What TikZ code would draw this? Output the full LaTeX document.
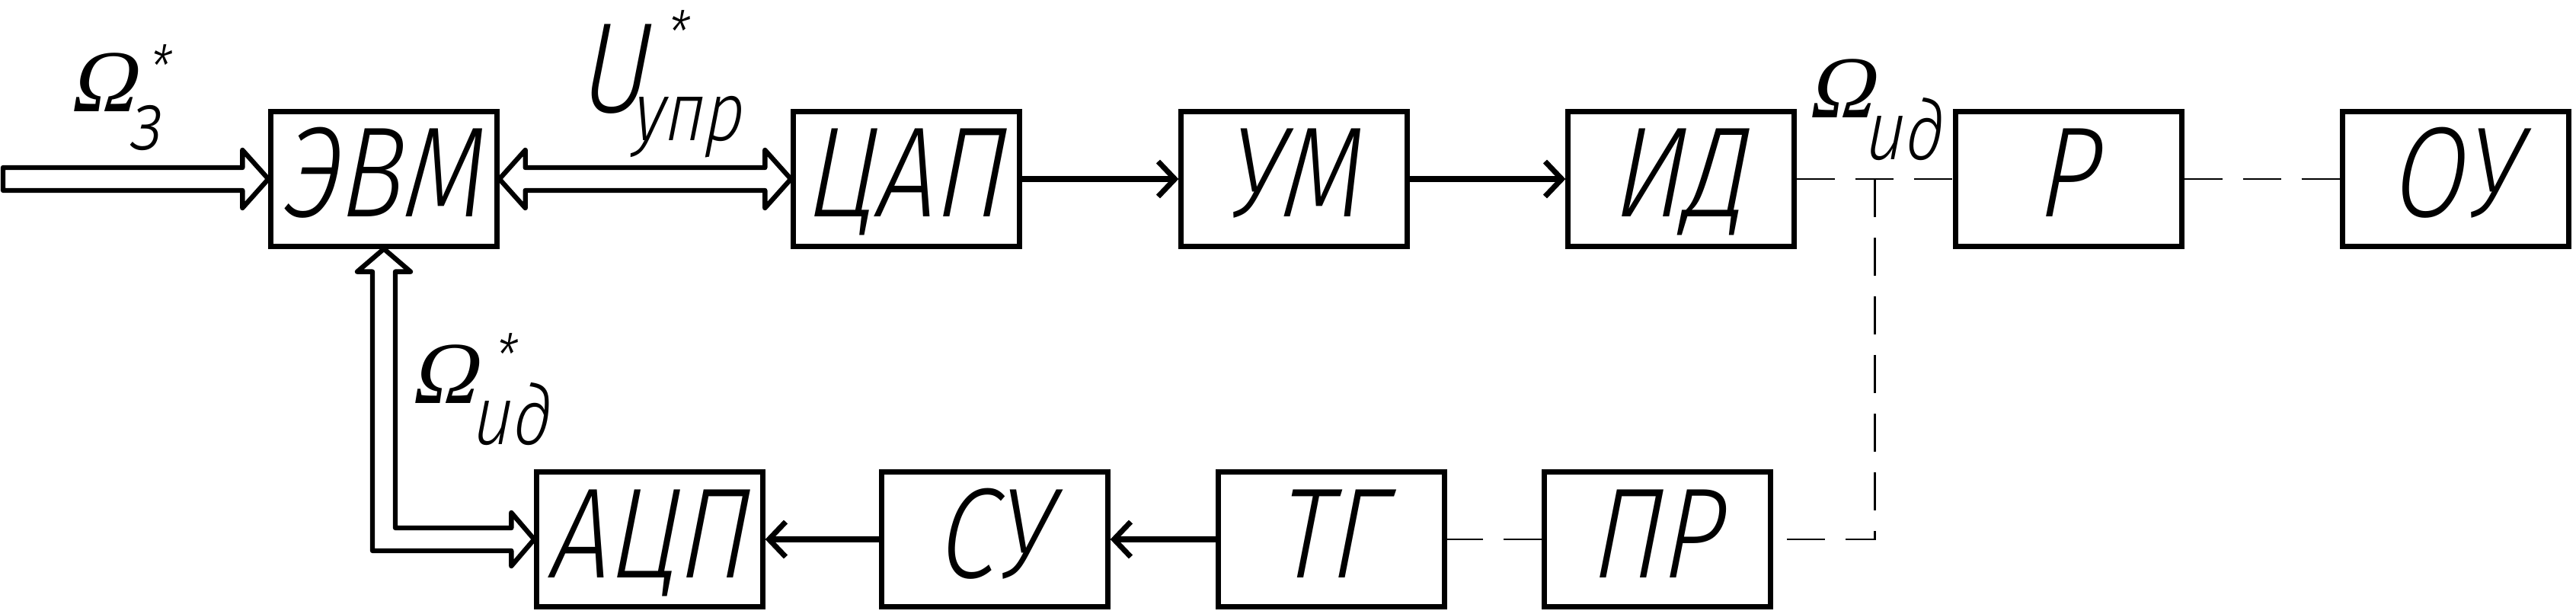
\documentclass[tikz,border=0pt]{standalone}
\usepackage{fontspec}
\usetikzlibrary{calc,arrows.meta}
\newfontfamily\gost[FakeSlant=0.08,FakeStretch=0.82]{Fira Sans Light Italic}
\newfontfamily\omfont[FakeSlant=0.22]{Liberation Serif}

\begin{document}
\begin{tikzpicture}[
    blk/.style={draw,line width=1.8pt,minimum width=2.97cm,minimum height=1.77cm,inner sep=0pt,
      text height=1.18cm,text depth=0.18cm,font=\gost\fontsize{48}{52}\selectfont},
    sig/.style={line width=2pt,-{Straight Barb[length=2.2mm,width=4.6mm]}},
    bus/.style={line width=1.8pt,line join=round},
    mech/.style={line width=0.8pt,dash pattern=on 0.5cm off 0.27cm},
    omg/.style={anchor=base west,inner sep=0pt,font=\omfont\fontsize{33}{36}\selectfont},
    lbl/.style={anchor=base west,inner sep=0pt,font=\gost\fontsize{48}{52}\selectfont},
    idx/.style={anchor=base west,inner sep=0pt,font=\gost\fontsize{31}{34}\selectfont},
    ast/.style={anchor=north west,inner sep=0pt,font=\gost\fontsize{22}{24}\selectfont}]
  \useasboundingbox (0,0) rectangle (33.82,-8.06);

  % top row
  \node[blk] (evm) at (5.04,-2.35) {ЭВМ};
  \node[blk] (cap) at (11.90,-2.35) {ЦАП};
  \node[blk] (um) at (16.99,-2.35) {УМ};
  \node[blk] (id) at (22.07,-2.35) {ИД};
  \node[blk] (r) at (27.16,-2.35) {Р};
  \node[blk] (ou) at (32.24,-2.35) {ОУ};

  % bottom row
  \node[blk] (acp) at (8.53,-7.08) {АЦП};
  \node[blk] (su) at (13.06,-7.08) {СУ};
  \node[blk] (tg) at (17.48,-7.08) {ТГ};
  \node[blk] (pr) at (21.76,-7.08) {ПР};

  % input bus
  \coordinate (zin) at (0.04,-2.35);
  \draw[bus] ($(zin)+(0,0.15)$) -- ($(evm.west)+(-0.34,0.15)$) -- ++(0,0.23) -- (evm.west)
    -- ++(-0.34,-0.38) -- ++(0,0.23) -- ($(zin)+(0,-0.15)$) -- cycle;
  \node[omg] (oz) at (0.90,-1.47) {Ω};
  \node[ast] at (1.94,-0.58) {*};
  \node[idx] at (1.70,-1.97) {з};

  % evm <-> cap
  \draw[bus] (evm.east) -- ++(0.34,0.38) -- ++(0,-0.23) -- ($(cap.west)+(-0.34,0.15)$) -- ++(0,0.23)
    -- (cap.west) -- ++(-0.34,-0.38) -- ++(0,0.23) -- ($(evm.east)+(0.34,-0.15)$) -- ++(0,-0.23) -- cycle;
  \node[lbl] (uu) at (7.62,-1.48) {U};
  \node[ast] at (8.74,-0.13) {*};
  \node[idx] at (8.30,-1.85) {упр};

  \draw[sig] (cap) -- (um);
  \draw[sig] (um) -- (id);

  % shaft
  \draw[mech] (id) -- (r);
  \draw[mech] (r) -- (ou);
  \coordinate (tap) at ($(id.east)!0.5!(r.west)$);
  \draw[mech] (tap) |- (pr);
  \node[omg] (oid) at (23.72,-1.55) {Ω};
  \node[idx] at (24.48,-2.10) {ид};

  % feedback
  \draw[mech] (pr) -- (tg);
  \draw[sig] (tg) -- (su);
  \draw[sig] (su) -- (acp);
  \coordinate (fbk) at (evm.south |- acp.west);
  \draw[bus] (evm.south) -- ++(0.35,-0.3) -- ++(-0.2,0) -- ($(fbk)+(0.15,0.15)$) -- ($(acp.west)+(-0.3,0.15)$)
    -- ++(0,0.2) -- (acp.west) -- ++(-0.3,-0.35) -- ++(0,0.2) -- ($(fbk)+(-0.15,-0.15)$)
    -- ($(evm.south)+(-0.15,-0.3)$) -- ++(-0.2,0) -- cycle;
  \node[omg] (ofb) at (5.38,-5.30) {Ω};
  \node[ast] at (6.48,-4.37) {*};
  \node[idx] at (6.20,-5.84) {ид};
\end{tikzpicture}
\end{document}
